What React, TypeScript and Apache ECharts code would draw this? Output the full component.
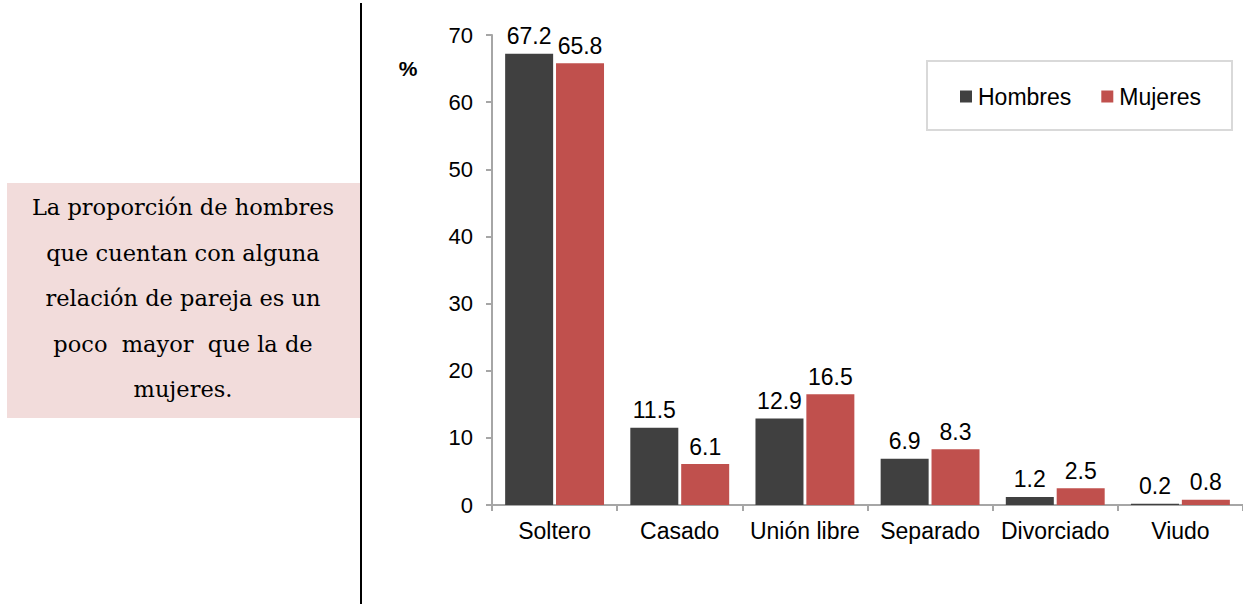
import React, { useEffect, useRef } from "react";
import * as echarts from "echarts";

const categories = ["Soltero", "Casado", "Unión libre", "Separado", "Divorciado", "Viudo"];
const hombres = [67.2, 11.5, 12.9, 6.9, 1.2, 0.2];
const mujeres = [65.8, 6.1, 16.5, 8.3, 2.5, 0.8];
const seriesNames = ["Hombres", "Mujeres"];
const noteLines = [
  "La proporción de hombres",
  "que cuentan con alguna",
  "relación de pareja es un",
  "poco  mayor  que la de",
  "mujeres.",
];

export default function App() {
  const ref = useRef<HTMLDivElement>(null);
  useEffect(() => {
    if (!ref.current) return;
    const chart = echarts.init(ref.current, null, { renderer: "svg" });
    const labelStyle = {
      show: true,
      position: "top",
      distance: 6,
      fontSize: 23,
      color: "#000",
      fontFamily: "Liberation Sans, Arial, sans-serif",
    };
    chart.setOption({
      animation: false,
      textStyle: { fontFamily: "Liberation Sans, Arial, sans-serif" },
      grid: { left: 492, width: 755, top: 35, bottom: 99, containLabel: false },
      legend: {
        data: seriesNames,
        left: 960,
        top: 85,
        padding: 0,
        itemWidth: 12,
        itemHeight: 12,
        itemGap: 30,
        icon: "rect",
        textStyle: { fontSize: 23, color: "#000", padding: [0, 0, 0, 1] },
      },
      xAxis: {
        type: "category",
        data: categories,
        axisLine: { lineStyle: { color: "#A6A6A6", width: 2 } },
        axisTick: { show: true, length: 6, lineStyle: { color: "#A6A6A6", width: 2 } },
        axisLabel: { fontSize: 23, color: "#000", margin: 14, interval: 0, hideOverlap: false },
      },
      yAxis: {
        type: "value",
        min: 0,
        max: 70,
        interval: 10,
        axisLine: { show: true, lineStyle: { color: "#A6A6A6", width: 2 } },
        axisTick: { show: true, length: 6, lineStyle: { color: "#A6A6A6", width: 2 } },
        axisLabel: { fontSize: 22, color: "#000", margin: 19 },
        splitLine: { show: false },
      },
      series: [
        {
          name: seriesNames[0],
          type: "bar",
          data: hombres,
          itemStyle: { color: "#404040" },
          barGap: "6%",
          barCategoryGap: "21%",
          label: labelStyle,
        },
        {
          name: seriesNames[1],
          type: "bar",
          data: mujeres,
          itemStyle: { color: "#C0504D" },
          barGap: "6%",
          barCategoryGap: "21%",
          label: labelStyle,
        },
      ],
      graphic: [
        {
          type: "rect",
          shape: { x: 7, y: 183, width: 353, height: 235 },
          style: { fill: "#F2DCDB" },
          silent: true,
        },
        {
          type: "line",
          shape: { x1: 361, y1: 3, x2: 361, y2: 604 },
          style: { stroke: "#000", lineWidth: 2 },
          silent: true,
        },
        {
          type: "rect",
          shape: { x: 927, y: 61, width: 305, height: 69 },
          style: { fill: "none", stroke: "#D9D9D9", lineWidth: 2 },
          silent: true,
        },
        {
          type: "text",
          style: {
            text: "%",
            x: 408,
            y: 68,
            fontSize: 21,
            fontWeight: "bold",
            fill: "#000",
            align: "center",
            verticalAlign: "middle",
            fontFamily: "Liberation Sans, Arial, sans-serif",
          },
        },
        ...noteLines.map((t, i) => ({
          type: "text",
          style: {
            text: t,
            x: 183,
            y: 207 + i * 45.5,
            fontSize: 22.5,
            fill: "#000",
            align: "center",
            verticalAlign: "middle",
            fontFamily: "DejaVu Serif, serif",
          },
        })),
      ],
    });
    return () => chart.dispose();
  }, []);
  return (
    <div
      ref={ref}
      style={{ position: "absolute", left: 0, top: 0, width: 1243, height: 604, background: "#fff" }}
    />
  );
}
